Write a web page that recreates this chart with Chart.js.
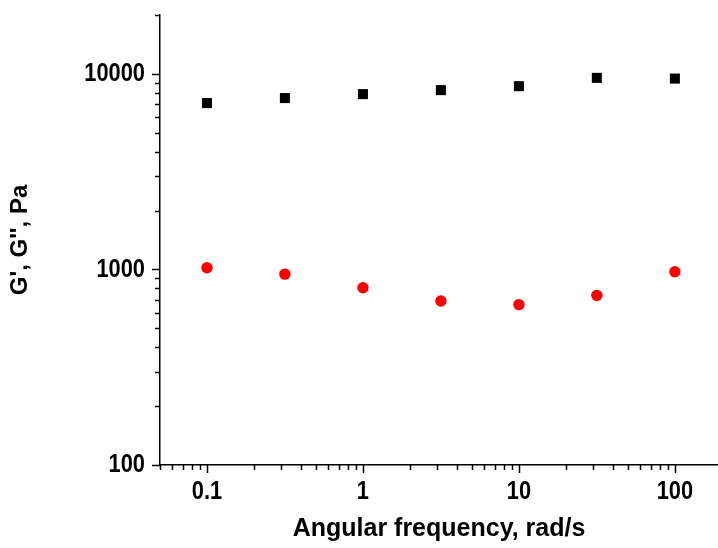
<!DOCTYPE html>
<html>
<head>
<meta charset="utf-8">
<script src="https://cdn.jsdelivr.net/npm/chart.js@4/dist/chart.umd.min.js"></script>
<style>
  html, body { margin: 0; padding: 0; background: #fff; overflow: hidden; }
  #wrap { width: 718px; height: 548px; }
</style>
</head>
<body>
<div id="wrap"><canvas id="c" width="718" height="548"></canvas></div>
<script>
// ---- data ----
const frequencies = [0.1, 0.316, 1, 3.16, 10, 31.6, 100];
const storageModulus = [7090, 7520, 7880, 8260, 8650, 9540, 9460];   // G' (black squares)
const lossModulus = [1020, 946, 806, 689, 661, 737, 973];            // G'' (red circles)
const xMajorTicks = [0.1, 1, 10, 100];
const yMajorTicks = [100, 1000, 10000];
const xRange = [0.05, 189];
const yRange = [100, 20000];
const xTitle = 'Angular frequency, rad/s';
const yTitle = "G', G'', Pa";

const FONT = "'Liberation Sans', Arial, sans-serif";
const TICK_SIZE = 26;
const TICK_SQUEEZE = 0.84;

function logTicks(min, max) {
  const out = [];
  for (let e = -3; e <= 6; e++) {
    for (let m = 1; m <= 9; m++) {
      const v = +(m * Math.pow(10, e)).toPrecision(6);
      if (v >= min * 0.9999 && v <= max * 1.0001) out.push(v);
    }
  }
  return out;
}
const isMajor = (v, majors) => majors.some(m => Math.abs(m - v) / m < 1e-6);

// condensed tick-label text (still drawn as real text via fillText)
const condensedText = {
  id: 'condensedText',
  beforeDraw(chart) {
    const ctx = chart.ctx;
    if (ctx.__patched) return;
    const orig = ctx.fillText;
    ctx.fillText = function (text, x, y, maxWidth) {
      if (this.font.indexOf(TICK_SIZE + 'px') !== -1) {
        this.save();
        this.translate(x, y);
        this.scale(TICK_SQUEEZE, 1);
        orig.call(this, text, 0, 0);
        this.restore();
      } else if (maxWidth !== undefined) {
        orig.call(this, text, x, y, maxWidth);
      } else {
        orig.call(this, text, x, y);
      }
    };
    ctx.__patched = true;
  }
};

const tickMarks = {
  id: 'tickMarks',
  afterDraw(chart) {
    const ctx = chart.ctx;
    ctx.save();
    ctx.strokeStyle = '#000';
    ctx.lineWidth = 1.5;
    const xs = chart.scales.x, ys = chart.scales.y;
    const bottom = chart.chartArea.bottom, left = chart.chartArea.left;
    xs.ticks.forEach(t => {
      const px = Math.round(xs.getPixelForValue(t.value)) + 0.5;
      const len = isMajor(t.value, xMajorTicks) ? 8 : 5;
      ctx.beginPath(); ctx.moveTo(px, bottom); ctx.lineTo(px, bottom + len); ctx.stroke();
    });
    ys.ticks.forEach(t => {
      const py = Math.round(ys.getPixelForValue(t.value)) + 0.5;
      const len = isMajor(t.value, yMajorTicks) ? 8 : 5;
      ctx.beginPath(); ctx.moveTo(left, py); ctx.lineTo(left - len, py); ctx.stroke();
    });
    ctx.restore();
  }
};

new Chart(document.getElementById('c'), {
  type: 'scatter',
  data: {
    datasets: [
      {
        label: "G'",
        data: frequencies.map((f, i) => ({ x: f, y: storageModulus[i] })),
        pointStyle: 'rect',
        pointRadius: 7.1,
        backgroundColor: '#000',
        borderColor: '#000',
        borderWidth: 0
      },
      {
        label: "G''",
        data: frequencies.map((f, i) => ({ x: f, y: lossModulus[i] })),
        pointStyle: 'circle',
        pointRadius: 5.7,
        backgroundColor: '#ff0000',
        borderColor: '#ff0000',
        borderWidth: 0
      }
    ]
  },
  options: {
    responsive: false,
    animation: false,
    layout: { autoPadding: false, padding: { top: 15, right: 0, left: 0, bottom: 0 } },
    plugins: { legend: { display: false }, tooltip: { enabled: false } },
    scales: {
      x: {
        type: 'logarithmic',
        min: xRange[0],
        max: xRange[1],
        afterBuildTicks(s) { s.ticks = logTicks(xRange[0], xRange[1]).map(v => ({ value: v, major: isMajor(v, xMajorTicks) })); },
        afterFit(s) { s.height = 83; s.paddingLeft = 0; s.paddingRight = 0; },
        grid: { display: false, drawTicks: false },
        border: { display: true, color: '#000', width: 1.5 },
        ticks: {
          autoSkip: false,
          maxRotation: 0,
          padding: 11,
          color: '#000',
          font: { family: FONT, size: TICK_SIZE, weight: 'bold' },
          callback(v) { return isMajor(v, xMajorTicks) ? String(v) : ''; }
        },
        title: {
          display: true,
          text: xTitle,
          color: '#000',
          font: { family: FONT, size: 25, weight: 'bold' },
          padding: { top: 0, bottom: 4 }
        }
      },
      y: {
        type: 'logarithmic',
        min: yRange[0],
        max: yRange[1],
        afterBuildTicks(s) { s.ticks = logTicks(yRange[0], yRange[1]).map(v => ({ value: v, major: isMajor(v, yMajorTicks) })); },
        afterFit(s) { s.width = 160; s.paddingTop = 0; s.paddingBottom = 0; },
        grid: { display: false, drawTicks: false },
        border: { display: true, color: '#000', width: 1.5 },
        ticks: {
          autoSkip: false,
          padding: 15,
          color: '#000',
          font: { family: FONT, size: TICK_SIZE, weight: 'bold' },
          callback(v) { return isMajor(v, yMajorTicks) ? String(v) : ''; }
        },
        title: {
          display: true,
          text: yTitle,
          color: '#000',
          font: { family: FONT, size: 24, weight: 'bold' },
          padding: { top: 6, bottom: 0 }
        }
      }
    }
  },
  plugins: [condensedText, tickMarks]
});
</script>
</body>
</html>
